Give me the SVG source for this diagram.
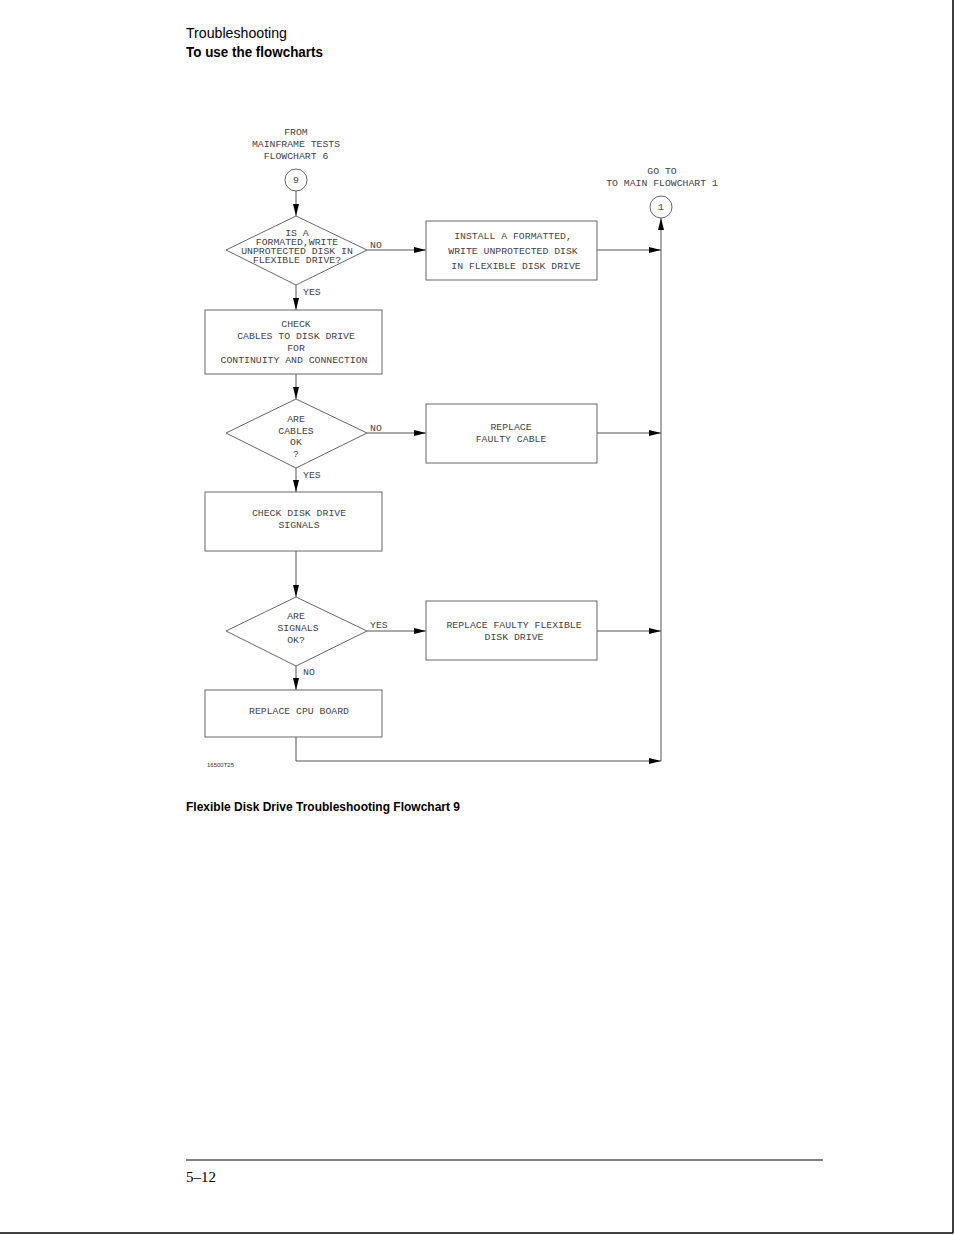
<svg xmlns="http://www.w3.org/2000/svg" width="954" height="1235" viewBox="0 0 954 1235">
<style>
.hd{font-family:"Liberation Sans",Arial,sans-serif;fill:#000}
.ft{font-family:"Liberation Mono","DejaVu Sans Mono",monospace;font-size:9.8px;fill:#444;text-anchor:middle}
.lb{font-family:"Liberation Mono","DejaVu Sans Mono",monospace;font-size:9.8px;fill:#444}
.shp{fill:#fff;stroke:#666;stroke-width:1}
.cn{fill:none;stroke:#555;stroke-width:1}
</style>
<defs>
<marker id="ah" viewBox="0 0 12 6" refX="12" refY="3" markerWidth="12" markerHeight="6" markerUnits="userSpaceOnUse" orient="auto">
<path d="M0,0 L12,3 L0,6 Z" fill="#000"/>
</marker>
</defs>
<rect x="0" y="0" width="954" height="1235" fill="#fff"/>
<line x1="953" y1="0" x2="953" y2="1233" stroke="#000" stroke-width="1.5"/>
<line x1="0" y1="1233" x2="953" y2="1233" stroke="#000" stroke-width="1.5"/>

<text class="hd" x="186" y="38" font-size="15.5" textLength="101" lengthAdjust="spacingAndGlyphs">Troubleshooting</text>
<text class="hd" x="186" y="57" font-size="15.5" font-weight="bold" textLength="137" lengthAdjust="spacingAndGlyphs">To use the flowcharts</text>

<g id="connectors">
<line class="cn" x1="296" y1="191" x2="296" y2="216" marker-end="url(#ah)"/>
<line class="cn" x1="367" y1="250" x2="426" y2="250" marker-end="url(#ah)"/>
<line class="cn" x1="597" y1="250" x2="661" y2="250" marker-end="url(#ah)"/>
<line class="cn" x1="661" y1="761" x2="661" y2="218" marker-end="url(#ah)"/>
<line class="cn" x1="296" y1="285" x2="296" y2="310" marker-end="url(#ah)"/>
<line class="cn" x1="296" y1="374" x2="296" y2="399" marker-end="url(#ah)"/>
<line class="cn" x1="367" y1="433" x2="426" y2="433" marker-end="url(#ah)"/>
<line class="cn" x1="597" y1="433" x2="661" y2="433" marker-end="url(#ah)"/>
<line class="cn" x1="296" y1="468" x2="296" y2="492" marker-end="url(#ah)"/>
<line class="cn" x1="296" y1="551" x2="296" y2="597" marker-end="url(#ah)"/>
<line class="cn" x1="367" y1="631" x2="426" y2="631" marker-end="url(#ah)"/>
<line class="cn" x1="597" y1="631" x2="661" y2="631" marker-end="url(#ah)"/>
<line class="cn" x1="296" y1="666" x2="296" y2="690" marker-end="url(#ah)"/>
<polyline class="cn" points="296,737 296,761 661,761" marker-end="url(#ah)"/>
<text class="lb" x="370" y="248">NO</text>
<text class="lb" x="303" y="295">YES</text>
<text class="lb" x="370" y="431">NO</text>
<text class="lb" x="303" y="478">YES</text>
<text class="lb" x="370" y="628">YES</text>
<text class="lb" x="303" y="675">NO</text>
</g>

<g id="start">
<text class="ft" x="296" y="135">FROM</text>
<text class="ft" x="296" y="147">MAINFRAME TESTS</text>
<text class="ft" x="296" y="159">FLOWCHART 6</text>
<circle class="shp" cx="296" cy="180" r="11"/>
<text class="ft" x="296" y="183">9</text>
</g>

<g id="end">
<text class="ft" x="662" y="174">GO TO</text>
<text class="ft" x="662" y="186">TO MAIN FLOWCHART 1</text>
<circle class="shp" cx="661" cy="207" r="11"/>
<text class="ft" x="661" y="210">1</text>
</g>

<g id="d1">
<polygon class="shp" points="296,216 367,250 296,285 226,250"/>
<text class="ft" x="297" y="236">IS A</text>
<text class="ft" x="297" y="245">FORMATED,WRITE</text>
<text class="ft" x="297" y="254">UNPROTECTED DISK IN</text>
<text class="ft" x="297" y="263">FLEXIBLE DRIVE?</text>
</g>

<g id="b1">
<rect class="shp" x="426" y="221" width="171" height="59"/>
<text class="ft" x="513" y="239">INSTALL A FORMATTED,</text>
<text class="ft" x="513" y="254">WRITE UNPROTECTED DISK</text>
<text class="ft" x="516" y="269">IN FLEXIBLE DISK DRIVE</text>
</g>

<g id="b2">
<rect class="shp" x="205" y="310" width="177" height="64"/>
<text class="ft" x="296" y="327">CHECK</text>
<text class="ft" x="296" y="339">CABLES TO DISK DRIVE</text>
<text class="ft" x="296" y="351">FOR</text>
<text class="ft" x="294" y="363">CONTINUITY AND CONNECTION</text>
</g>

<g id="d2">
<polygon class="shp" points="296,399 367,433 296,468 226,433"/>
<text class="ft" x="296" y="422">ARE</text>
<text class="ft" x="296" y="434">CABLES</text>
<text class="ft" x="296" y="445">OK</text>
<text class="ft" x="296" y="457">?</text>
</g>

<g id="b3">
<rect class="shp" x="426" y="404" width="171" height="59"/>
<text class="ft" x="511" y="430">REPLACE</text>
<text class="ft" x="511" y="442">FAULTY CABLE</text>
</g>

<g id="b4">
<rect class="shp" x="205" y="492" width="177" height="59"/>
<text class="ft" x="299" y="516">CHECK DISK DRIVE</text>
<text class="ft" x="299" y="528">SIGNALS</text>
</g>

<g id="d3">
<polygon class="shp" points="296,597 367,631 296,666 226,631"/>
<text class="ft" x="296" y="619">ARE</text>
<text class="ft" x="298" y="631">SIGNALS</text>
<text class="ft" x="296" y="643">OK?</text>
</g>

<g id="b5">
<rect class="shp" x="426" y="601" width="171" height="59"/>
<text class="ft" x="514" y="628">REPLACE FAULTY FLEXIBLE</text>
<text class="ft" x="514" y="640">DISK DRIVE</text>
</g>

<g id="b6">
<rect class="shp" x="205" y="690" width="177" height="47"/>
<text class="ft" x="299" y="714">REPLACE CPU BOARD</text>
</g>

<text x="207" y="767" font-family="Liberation Sans,Arial,sans-serif" font-size="6" fill="#333">16500T25</text>

<text class="hd" x="186" y="811" font-size="13" font-weight="bold" textLength="274" lengthAdjust="spacingAndGlyphs">Flexible Disk Drive Troubleshooting Flowchart 9</text>

<line x1="186" y1="1160" x2="823" y2="1160" stroke="#000" stroke-width="1"/>
<text x="186" y="1182" font-family="Liberation Serif,Times New Roman,serif" font-size="15" fill="#000">5–12</text>
</svg>
